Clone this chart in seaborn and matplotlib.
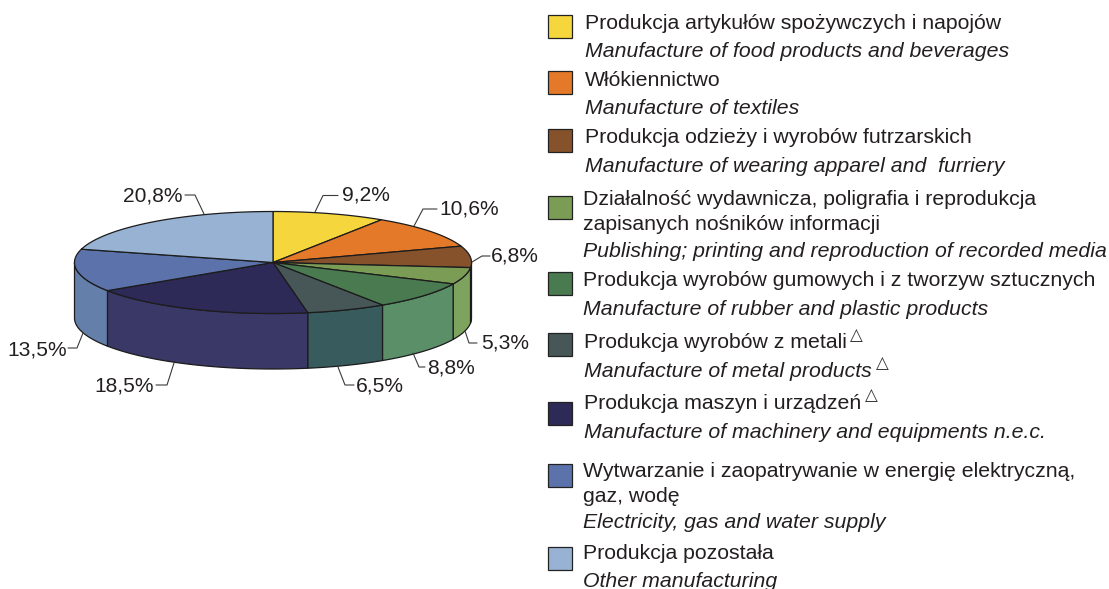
import numpy as np
import matplotlib
matplotlib.use("Agg")
import matplotlib.pyplot as plt
import seaborn as sns

shares = [9.2, 10.6, 6.8, 5.3, 8.8, 6.5, 18.5, 13.5, 20.8]
share_labels = ["9,2%", "10,6%", "6,8%", "5,3%", "8,8%", "6,5%", "18,5%", "13,5%", "20,8%"]
top_colors = ["#f5d63d", "#e5792a", "#85522b", "#7a9c55", "#4a7a4f",
              "#475656", "#2d2a57", "#5b72ab", "#98b2d4"]
side_colors = ["#f5d63d", "#e5792a", "#85522b", "#7ea35f", "#5a8f68",
               "#385c5e", "#3a3866", "#6480aa", "#98b2d4"]

legend_pl = [
    "Produkcja artykułów spożywczych i napojów",
    "Włókiennictwo",
    "Produkcja odzieży i wyrobów futrzarskich",
    "Działalność wydawnicza, poligrafia i reprodukcja\nzapisanych nośników informacji",
    "Produkcja wyrobów gumowych i z tworzyw sztucznych",
    "Produkcja wyrobów z metali",
    "Produkcja maszyn i urządzeń",
    "Wytwarzanie i zaopatrywanie w energię elektryczną,\ngaz, wodę",
    "Produkcja pozostała",
]
legend_en = [
    "Manufacture of food products and beverages",
    "Manufacture of textiles",
    "Manufacture of wearing apparel and  furriery",
    "Publishing; printing and reproduction of recorded media",
    "Manufacture of rubber and plastic products",
    "Manufacture of metal products",
    "Manufacture of machinery and equipments n.e.c.",
    "Electricity, gas and water supply",
    "Other manufacturing",
]

# layout, in pixels of the picture
cx, cy, rx, ry, depth = 273, 262.5, 198.5, 51, 55.5
label_xy = [(342, 195), (439, 209), (491, 256), (481, 343), (427, 367.5),
            (356, 385.5), (154, 386), (67, 350), (183, 196)]
label_ha = ["left", "left", "left", "left", "left", "left", "right", "right", "right"]
leaders = [
    [(338, 195.5), (323, 195.5), (315, 212)],
    [(437, 209), (423, 209), (414, 226)],
    [(490, 256), (482, 256), (472, 262)],
    [(477, 343), (469, 343), (465, 331)],
    [(425, 367), (419, 367), (413, 353)],
    [(354, 385), (345, 385), (338, 367)],
    [(156, 385), (167, 385), (174, 363)],
    [(68, 348), (77, 348), (83, 333)],
    [(185, 195), (195, 195), (204, 214)],
]
box_y = [26, 82, 140, 207, 283, 344.5, 413, 475.5, 558]
pl_base = [29, 86, 143, 205, 286, 348, 409, 477, 559]
en_base = [57, 114, 172, 257, 315, 377, 438, 528, 587]
text_x = [585, 585, 585, 583, 583, 584, 584, 583, 583]

sns.set_theme(style="white")
plt.rcParams["font.family"] = ["Liberation Sans", "DejaVu Sans"]
FS_LABEL = 15.1
FS_LEGEND = 15.3


def rim(t):
    t = np.radians(t)
    return cx + rx * np.sin(t), cy - ry * np.cos(t)


fig, ax = plt.subplots(figsize=(11.09, 5.89), dpi=100)
ax.set_position([0, 0, 1, 1])
ax.set_xlim(0, 1109)
ax.set_ylim(589, 0)
ax.axis("off")

bounds = np.concatenate([[0], np.cumsum(shares)]) * 3.6
top_pal = sns.color_palette(top_colors)
side_pal = sns.color_palette(side_colors)

# side wall first, only the front half shows
for i in range(len(shares)):
    a, b = max(bounds[i], 90), min(bounds[i + 1], 270)
    if b <= a:
        continue
    t = np.linspace(a, b, 80)
    x, y = rim(t)
    ax.fill(np.r_[x, x[::-1]], np.r_[y, y[::-1] + depth], facecolor=side_pal[i],
            edgecolor="#1c1c1c", lw=0.9, zorder=2)

# top face
for i in range(len(shares)):
    t = np.linspace(bounds[i], bounds[i + 1], 80)
    x, y = rim(t)
    ax.fill(np.r_[cx, x], np.r_[cy, y], facecolor=top_pal[i],
            edgecolor="#1c1c1c", lw=0.9, zorder=3)

for txt, (x, y), ha in zip(share_labels, label_xy, label_ha):
    ax.text(x, y, txt, fontsize=FS_LABEL, ha=ha, va="center", color="#231f20")
for pts in leaders:
    xs, ys = zip(*pts)
    ax.plot(xs, ys, color="#3a3a3a", lw=0.8, zorder=4)

for i in range(len(legend_pl)):
    ax.add_patch(plt.Rectangle((548, box_y[i] - 11.5), 23.5, 23, facecolor=top_pal[i],
                               edgecolor="#222222", lw=0.9))
    for j, line in enumerate(legend_pl[i].split("\n")):
        ax.text(text_x[i], pl_base[i] + j * 24.5, line, fontsize=FS_LEGEND,
                va="baseline", color="#231f20")
    ax.text(text_x[i], en_base[i], legend_en[i], fontsize=FS_LEGEND, va="baseline",
            style="italic", color="#231f20")

# small triangles behind three of the names
ax.text(856, 335, "△", fontsize=12, family="DejaVu Sans", ha="center", va="center", color="#333333")
ax.text(882, 363, "△", fontsize=12, family="DejaVu Sans", style="italic", ha="center", va="center", color="#333333")
ax.text(871, 395, "△", fontsize=12, family="DejaVu Sans", ha="center", va="center", color="#333333")

fig.savefig("out.png", dpi=100)
